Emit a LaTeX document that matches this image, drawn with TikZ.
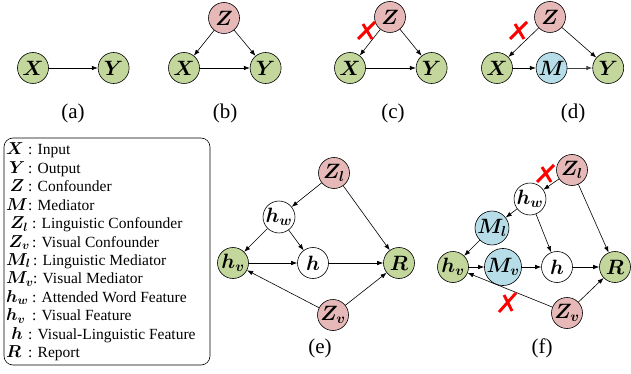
\documentclass[tikz,border=0pt]{standalone}
\usepackage{amssymb}
\usepackage{amsmath}
\usepackage{bm}
\usepackage{fontspec}
\setmainfont{Liberation Serif}
\usepackage{tikz}
\usepackage{xcolor}
\usetikzlibrary{positioning,arrows.meta}
\definecolor{fill-g}{HTML}{C3D69B}
\definecolor{fill-r}{HTML}{E6B9B8}
\definecolor{fill-b}{HTML}{B7DEE8}
\definecolor{mark-r}{HTML}{FF0000}
\newcommand{\legsym}[1]{{\fontsize{17}{17}\selectfont$\bm{#1}$}}

\begin{document}
\begin{tikzpicture}
[
x=1pt, y=-1pt,
cell-a/.style={circle, draw, line width=0.6pt, minimum size=31pt, inner sep=0pt, font=\fontsize{19.5}{19.5}\selectfont},
cell-g/.style={cell-a, fill=fill-g},
cell-r/.style={cell-a, fill=fill-r},
cell-b/.style={cell-a, fill=fill-b},
cell-w/.style={cell-a, fill=white},
edge-a/.style={-{Latex[length=6pt,width=4.5pt]}, line width=0.6pt},
cross-a/.style={mark-r, line width=2.9pt},
text-a/.style={black, font=\fontsize{21}{21}\selectfont},
text-b/.style={black, anchor=base west, inner sep=0pt, font=\fontsize{15.5}{18}\selectfont}
]
\useasboundingbox (0,0) rectangle (631,374);

% (a)
\node (x-a)   [cell-g                        ] at (33,68)  {$\bm{X}$};
\node (y-a)   [cell-g, right = 49pt of x-a   ]             {$\bm{Y}$};
\node (lab-a) [text-a                        ] at (73,113) {(a)};
\draw [edge-a] (x-a) -- (y-a);

% (b)
\node (z-b)   [cell-r                        ] at (224,18) {$\bm{Z}$};
\node (x-b)   [cell-g                        ] at (184,68) {$\bm{X}$};
\node (y-b)   [cell-g, right = 50pt of x-b   ]             {$\bm{Y}$};
\node (lab-b) [text-a                        ] at (225,113) {(b)};
\draw [edge-a] (z-b) -- (x-b);
\draw [edge-a] (z-b) -- (y-b);
\draw [edge-a] (x-b) -- (y-b);

% (c)
\node (z-c)   [cell-r                        ] at (390,17) {$\bm{Z}$};
\node (x-c)   [cell-g                        ] at (350,68) {$\bm{X}$};
\node (y-c)   [cell-g, right = 50pt of x-c   ]             {$\bm{Y}$};
\node (lab-c) [text-a                        ] at (393,113) {(c)};
\draw [edge-a] (z-c) -- (x-c);
\draw [edge-a] (z-c) -- (y-c);
\draw [edge-a] (x-c) -- (y-c);
\coordinate (cut-c) at (367,31);
\draw [cross-a] ([shift={(-9,8)}]cut-c) -- ([shift={(8,-9)}]cut-c);
\draw [cross-a] ([shift={(-4,-7)}]cut-c) -- ([shift={(5,8)}]cut-c);

% (d)
\node (z-d)   [cell-r                        ] at (550,17) {$\bm{Z}$};
\node (x-d)   [cell-g                        ] at (497,68) {$\bm{X}$};
\node (m-d)   [cell-b, right = 23pt of x-d   ]             {$\bm{M}$};
\node (y-d)   [cell-g, right = 25pt of m-d   ]             {$\bm{Y}$};
\node (lab-d) [text-a                        ] at (573,113) {(d)};
\draw [edge-a] (z-d) -- (x-d);
\draw [edge-a] (z-d) -- (y-d);
\draw [edge-a] (x-d) -- (m-d);
\draw [edge-a, line width=0.9pt, black!75] (m-d) -- (y-d);
\coordinate (cut-d) at (519,31);
\draw [cross-a] ([shift={(-9,8)}]cut-d) -- ([shift={(8,-9)}]cut-d);
\draw [cross-a] ([shift={(-4,-7)}]cut-d) -- ([shift={(5,8)}]cut-d);

% legend
\draw [rounded corners=9pt, line width=0.6pt] (4,138) rectangle (210,365);
\node (leg-1)  [text-b] at (6,155.0) {\makebox[22pt][l]{\legsym{X}}: Input};
\node (leg-2)  [text-b] at (6,173.4) {\makebox[22pt][c]{\legsym{Y}}: Output};
\node (leg-3)  [text-b] at (6,191.8) {\makebox[22pt][c]{\legsym{Z}}: Confounder};
\node (leg-4)  [text-b] at (6,210.2) {\makebox[22pt][l]{\legsym{M}}: Mediator};
\node (leg-5)  [text-b] at (6,228.6) {\makebox[26pt][c]{\legsym{Z_l}}: Linguistic Confounder};
\node (leg-6)  [text-b] at (6,247.0) {\makebox[26pt][c]{\legsym{Z_v}}: Visual Confounder};
\node (leg-7)  [text-b] at (6,265.4) {\makebox[27pt][l]{\legsym{M_l}}: Linguistic Mediator};
\node (leg-8)  [text-b] at (6,283.8) {\makebox[27pt][l]{\legsym{M_v}}: Visual Mediator};
\node (leg-9)  [text-b] at (6,302.2) {\makebox[26pt][l]{\legsym{h_w}}: Attended Word Feature};
\node (leg-10) [text-b] at (6,320.6) {\makebox[26pt][l]{\legsym{h_v}}: Visual Feature};
\node (leg-11) [text-b] at (6,339.0) {\makebox[22pt][c]{\legsym{h}}: Visual-Linguistic Feature};
\node (leg-12) [text-b] at (6,357.4) {\makebox[22pt][l]{\legsym{R}}: Report};

% (e)
\node (zl-e)  [cell-r] at (334,173) {$\bm{Z_l}$};
\node (hw-e)  [cell-w] at (279,217) {$\bm{h_w}$};
\node (hv-e)  [cell-g] at (233,263) {$\bm{h_v}$};
\node (h-e)   [cell-w] at (313,263) {$\bm{h}$};
\node (r-e)   [cell-g] at (399,263) {$\bm{R}$};
\node (zv-e)  [cell-r] at (333,315) {$\bm{Z_v}$};
\node (lab-e) [text-a] at (320,348) {(e)};
\draw [edge-a] (zl-e) -- (hw-e);
\draw [edge-a] (zl-e) -- (r-e);
\draw [edge-a] (hw-e) -- (hv-e);
\draw [edge-a] (hw-e) -- (h-e);
\draw [edge-a] (hv-e) -- (h-e);
\draw [edge-a] (h-e)  -- (r-e);
\draw [edge-a] (zv-e) -- (hv-e);
\draw [edge-a] (zv-e) -- (r-e);

% (f)
\node (zl-f)  [cell-r] at (572,170) {$\bm{Z_l}$};
\node (hw-f)  [cell-w] at (530,199) {$\bm{h_w}$};
\node (ml-f)  [cell-b] at (492,228) {$\bm{M_l}$};
\node (hv-f)  [cell-g] at (453,267) {$\bm{h_v}$};
\node (mv-f)  [cell-b] at (503,267) {$\bm{M_v}$};
\node (h-f)   [cell-w] at (557,267) {$\bm{h}$};
\node (r-f)   [cell-g] at (615,267) {$\bm{R}$};
\node (zv-f)  [cell-r] at (567,313) {$\bm{Z_v}$};
\node (lab-f) [text-a] at (542,348) {(f)};
\draw [edge-a] (zl-f) -- (hw-f);
\draw [edge-a] (zl-f) -- (r-f);
\draw [edge-a] (hw-f) -- (ml-f);
\draw [edge-a] (hw-f) -- (h-f);
\draw [edge-a] (ml-f) -- (hv-f);
\draw [edge-a] (hv-f) -- (mv-f);
\draw [edge-a] (mv-f) -- (h-f);
\draw [edge-a] (h-f)  -- (r-f);
\draw [edge-a] (zv-f) -- (hv-f);
\draw [edge-a] (zv-f) -- (r-f);
\coordinate (cut-f1) at (546,174);
\draw [cross-a] ([shift={(-9,8)}]cut-f1) -- ([shift={(8,-9)}]cut-f1);
\draw [cross-a] ([shift={(-4,-7)}]cut-f1) -- ([shift={(5,8)}]cut-f1);
\coordinate (cut-f2) at (508,303);
\draw [cross-a] ([shift={(-9,9)}]cut-f2) -- ([shift={(8,-10)}]cut-f2);
\draw [cross-a] ([shift={(-4,-8)}]cut-f2) -- ([shift={(4,8)}]cut-f2);
\end{tikzpicture}
\end{document}
